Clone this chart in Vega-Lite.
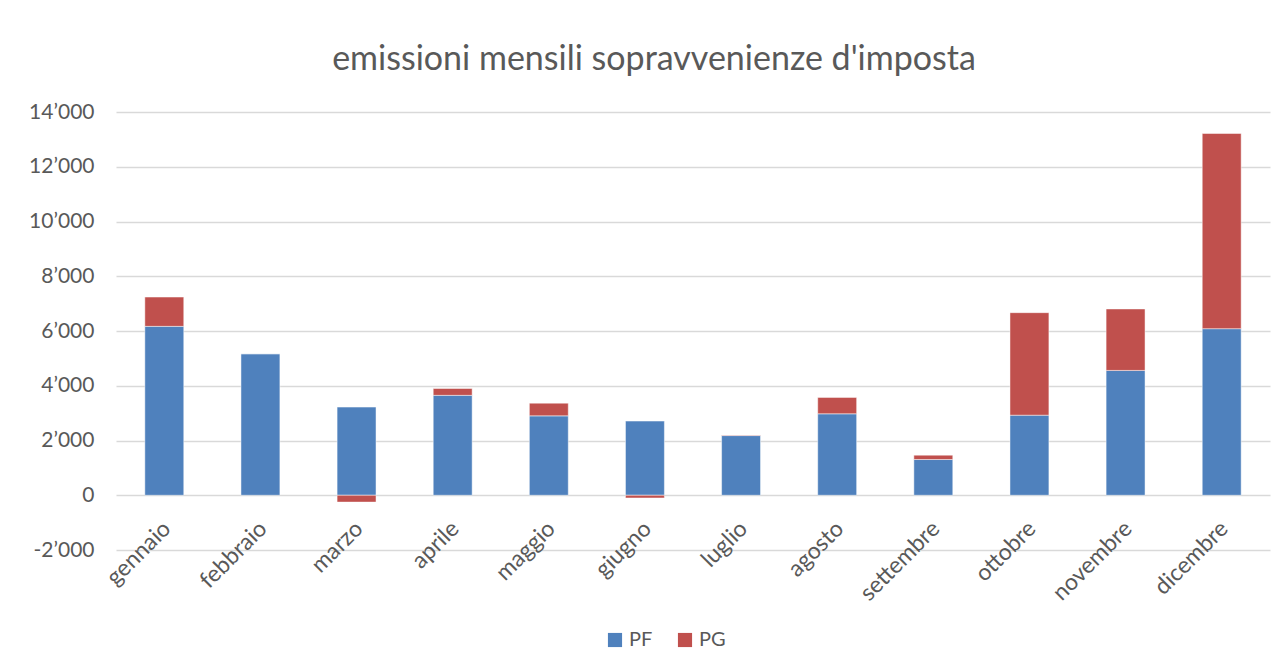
{
  "$schema": "https://vega.github.io/schema/vega-lite/v6.json",
  "width": 1154,
  "height": 438,
  "autosize": {"type": "none"},
  "padding": {"left": 116, "top": 112, "right": 17, "bottom": 122},
  "background": "white",
  "config": {
    "font": "Lato",
    "locale": {"number": {"decimal": ".", "thousands": "’", "grouping": [3], "currency": ["", ""], "minus": "-"}},
    "view": {"stroke": null}
  },
  "title": {
    "text": "emissioni mensili sopravvenienze d'imposta",
    "fontSize": 34,
    "fontWeight": "normal",
    "color": "#595959",
    "anchor": "middle",
    "dx": -39,
    "offset": 24
  },
  "data": {
    "values": [
      {"mese": "gennaio", "tipo": "PF", "valore": 6170},
      {"mese": "gennaio", "tipo": "PG", "valore": 1070},
      {"mese": "febbraio", "tipo": "PF", "valore": 5170},
      {"mese": "febbraio", "tipo": "PG", "valore": 0},
      {"mese": "marzo", "tipo": "PF", "valore": 3220},
      {"mese": "marzo", "tipo": "PG", "valore": -250},
      {"mese": "aprile", "tipo": "PF", "valore": 3650},
      {"mese": "aprile", "tipo": "PG", "valore": 250},
      {"mese": "maggio", "tipo": "PF", "valore": 2900},
      {"mese": "maggio", "tipo": "PG", "valore": 465},
      {"mese": "giugno", "tipo": "PF", "valore": 2710},
      {"mese": "giugno", "tipo": "PG", "valore": -100},
      {"mese": "luglio", "tipo": "PF", "valore": 2180},
      {"mese": "luglio", "tipo": "PG", "valore": 20},
      {"mese": "agosto", "tipo": "PF", "valore": 2975},
      {"mese": "agosto", "tipo": "PG", "valore": 600},
      {"mese": "settembre", "tipo": "PF", "valore": 1305},
      {"mese": "settembre", "tipo": "PG", "valore": 160},
      {"mese": "ottobre", "tipo": "PF", "valore": 2925},
      {"mese": "ottobre", "tipo": "PG", "valore": 3745},
      {"mese": "novembre", "tipo": "PF", "valore": 4560},
      {"mese": "novembre", "tipo": "PG", "valore": 2245},
      {"mese": "dicembre", "tipo": "PF", "valore": 6085},
      {"mese": "dicembre", "tipo": "PG", "valore": 7130}
    ]
  },
  "mark": {"type": "bar", "stroke": "white", "strokeWidth": 0.8, "strokeOpacity": 0.6},
  "encoding": {
    "x": {
      "field": "mese",
      "type": "nominal",
      "sort": ["gennaio", "febbraio", "marzo", "aprile", "maggio", "giugno", "luglio", "agosto", "settembre", "ottobre", "novembre", "dicembre"],
      "scale": {"paddingInner": 0.595, "paddingOuter": 0.3},
      "axis": {
        "title": null,
        "labelAngle": -45,
        "labelFontSize": 23,
        "labelColor": "#595959",
        "labelOffset": -5,
        "domain": false,
        "ticks": false,
        "offset": -55,
        "labelPadding": 22
      }
    },
    "y": {
      "field": "valore",
      "type": "quantitative",
      "stack": "zero",
      "scale": {"domain": [-2000, 14000], "nice": false},
      "axis": {
        "title": null,
        "values": [-2000, 0, 2000, 4000, 6000, 8000, 10000, 12000, 14000],
        "format": ",d",
        "labelFontSize": 21,
        "labelColor": "#595959",
        "labelPadding": 22,
        "domain": false,
        "ticks": false,
        "gridColor": "#D9D9D9",
        "gridWidth": 1.5
      }
    },
    "color": {
      "field": "tipo",
      "type": "nominal",
      "scale": {"domain": ["PF", "PG"], "range": ["#4F81BD", "#C0504D"]},
      "legend": {
        "title": null,
        "orient": "none",
        "legendX": 489,
        "legendY": 518,
        "direction": "horizontal",
        "symbolType": "square",
        "symbolSize": 200,
        "symbolStrokeWidth": 0,
        "labelFontSize": 20,
        "labelColor": "#595959",
        "columnPadding": 22
      }
    },
    "order": {"field": "tipo"}
  }
}
